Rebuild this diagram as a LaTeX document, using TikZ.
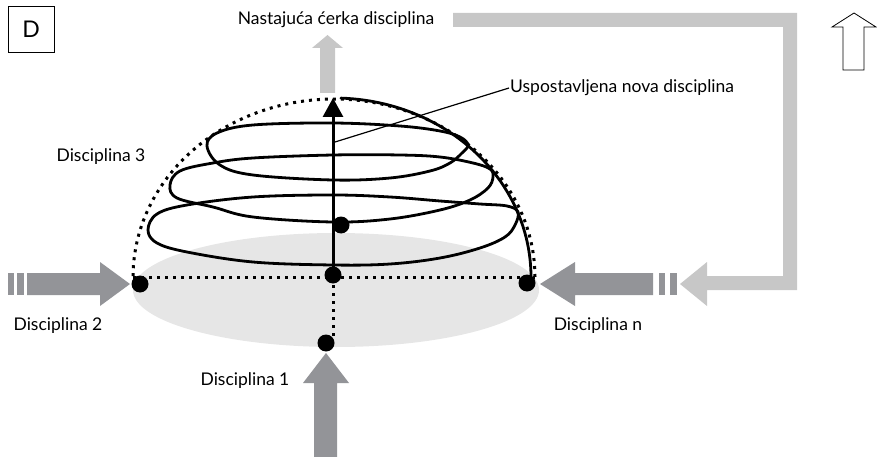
\documentclass[tikz,border=0pt]{standalone}
\usepackage{fontspec}
\setmainfont{Lato}
\usetikzlibrary{arrows.meta}
\definecolor{arrowdark}{RGB}{147,148,152}
\definecolor{arrowlight}{RGB}{199,199,199}
\definecolor{basefill}{RGB}{230,230,230}
\begin{document}
\begin{tikzpicture}[x=1pt,y=-1pt,
  lbl/.style={font=\fontsize{17.5}{19}\selectfont, inner sep=1pt},
  dotline/.style={line width=3pt, dash pattern=on 3pt off 5pt},
  spiral/.style={line width=2.8pt, line join=round, line cap=round},
  knot/.style={circle, fill=black, inner sep=0pt, minimum size=17pt}]
\useasboundingbox (0,0) rectangle (877,457);

% base disc
\fill[basefill] (336,290) ellipse [x radius=203, y radius=57];

% dotted dome, base line and axis below
\draw[dotline] plot[domain=0:180, samples=80] ({334+201*cos(\x)},{277-178*sin(\x)});
\draw[dotline] (133,277) -- (535,277);
\draw[dotline] (333,277) -- (333,336);

% spiral loops
\draw[spiral] plot[smooth cycle, tension=0.6] coordinates {
  (207,146) (217,133) (253,125) (333,123) (400,126) (440,131) (460,137) (468,145)
  (462,153) (450,163) (430,171) (390,178) (333,180) (253,175) (220,165)};
\draw[spiral] plot[smooth cycle, tension=0.6] coordinates {
  (170,185) (180,171) (213,163) (253,158) (333,155) (400,155) (440,157) (473,163)
  (490,169) (493,177) (488,188) (470,200) (440,210) (390,219) (333,222) (253,217)
  (213,207) (177,198)};
\draw[spiral] plot[smooth cycle, tension=0.6] coordinates {
  (148,230) (157,214) (187,205) (253,197) (333,195) (390,197) (440,201) (480,204)
  (507,206) (518,212) (515,225) (505,237) (480,248) (440,258) (390,264) (333,265)
  (253,262) (187,252) (157,243)};
% outer arc along the dome
\draw[spiral] plot[domain=0:88, samples=50] ({334+197*cos(\x)},{277-179*sin(\x)});

% gray input arrows
\fill[arrowdark] (8,273) rectangle (14,295);
\fill[arrowdark] (17,273) rectangle (24,295);
\fill[arrowdark] (27,273) -- (100,273) -- (100,262) -- (130,284) -- (100,306) -- (100,295) -- (27,295) -- cycle;
\fill[arrowdark] (540,284) -- (575,262) -- (575,273) -- (653,273) -- (653,295) -- (575,295) -- (575,306) -- cycle;
\fill[arrowdark] (659,273) rectangle (665,295);
\fill[arrowdark] (670,273) rectangle (677,295);
\fill[arrowdark] (314,457) -- (314,383) -- (303,383) -- (326,353) -- (349,383) -- (337,383) -- (337,457) -- cycle;

% light feedback loop and outgoing arrow
\fill[arrowlight] (680,284) -- (707,262) -- (707,276) -- (783,276) -- (783,27) -- (453,27)
  -- (453,13) -- (797,13) -- (797,290) -- (707,290) -- (707,306) -- cycle;
\fill[arrowlight] (320,93) -- (320,48) -- (312,48) -- (327.5,35) -- (343,48) -- (335,48) -- (335,93) -- cycle;

% outline arrow
\draw[line width=0.8pt, line join=miter] (843,70) -- (843,27) -- (832,27) -- (854,13) -- (876,27) -- (864,27) -- (864,70) -- cycle;

% points
\node[knot] (ldot) at (140,284) {};
\node[knot] (rdot) at (527,283) {};
\node[knot] (cdot) at (333,275) {};
\node[knot] (idot) at (341,225) {};
\node[knot] (bdot) at (326,343) {};
\coordinate (apex) at (333,98);
\coordinate (leadend) at (335,142);

% central axis arrow
\draw[line width=3pt, -{Triangle[length=19pt,width=20pt]}] (cdot.center) -- (apex);

% labels
\node[draw, line width=0.8pt, minimum size=46pt, inner sep=0pt, font=\fontsize{23}{23}\selectfont] (dbox) at (31,29) {D};
\node[lbl] (child) at (336,20) {Nastajuća ćerka disciplina};
\node[lbl, anchor=west] (newlbl) at (509,88) {Uspostavljena nova disciplina};
\node[lbl] (d3) at (101,157) {Disciplina 3};
\node[lbl] (d2) at (58,326) {Disciplina 2};
\node[lbl] (dn) at (598,326) {Disciplina n};
\node[lbl] (d1) at (245,381) {Disciplina 1};

\draw[line width=1.2pt] (newlbl.west) -- (leadend);
\end{tikzpicture}
\end{document}
